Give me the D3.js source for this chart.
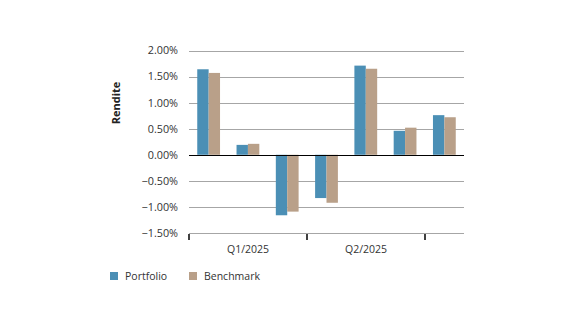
<!DOCTYPE html>
<html><head><meta charset="utf-8">
<script src="https://cdn.jsdelivr.net/npm/d3@7"></script>
<style>body{margin:0;background:#fff}svg{display:block;font-family:"Open Sans",sans-serif}</style>
</head><body><svg id="c" width="576" height="324"></svg>
<script>
const groups = ["1","2","3","4","5","6","7"];
const seriesNames = ["Portfolio","Benchmark"];
const portfolio = [1.64, 0.19, -1.16, -0.83, 1.71, 0.46, 0.76];
const benchmark = [1.57, 0.21, -1.09, -0.92, 1.65, 0.52, 0.72];
const yTicks = [2.0, 1.5, 1.0, 0.5, 0.0, -0.5, -1.0, -1.5];
const quarterLabels = ["Q1/2025", "Q2/2025", ""];
const colors = ["#4b8fb5", "#b9a089"];

(function () {
const svg = d3.select("#c");
const pLeft = 189, pRight = 464, pTop = 50.5, pBottom = 233;
const y = d3.scaleLinear().domain([-1.5, 2.0]).range([pBottom, pTop]);
const x = d3.scaleBand().domain(groups).range([pLeft, pRight]).paddingInner(0.42).paddingOuter(0.21);
const xs = d3.scaleBand().domain(seriesNames).range([0, x.bandwidth()]);
const q = d3.scaleBand().domain(d3.range(3)).range([pLeft, pLeft + 118 * 3]);

svg.append("g").selectAll("line").data(yTicks.filter(d => d !== 0)).join("line")
  .attr("x1", pLeft).attr("x2", pRight)
  .attr("y1", d => Math.round(y(d)) + 0.5).attr("y2", d => Math.round(y(d)) + 0.5)
  .attr("stroke", "#a6a6a6").attr("stroke-width", 1.2);

svg.append("g").selectAll("text").data(yTicks).join("text")
  .attr("x", 178).attr("y", d => y(d)).attr("dy", "0.36em")
  .attr("text-anchor", "end").attr("font-size", 10.8).attr("fill", "#333")
  .text(d => d3.format(".2f")(d) + "%");

const data = groups.map((g, i) => ({g, vals: [portfolio[i], benchmark[i]]}));
svg.append("g").selectAll("g").data(data).join("g")
  .attr("transform", d => `translate(${x(d.g)},0)`)
  .selectAll("rect").data(d => d.vals.map((v, j) => ({v, s: seriesNames[j], j}))).join("rect")
  .attr("x", d => xs(d.s)).attr("width", xs.bandwidth())
  .attr("y", d => y(Math.max(0, d.v))).attr("height", d => Math.abs(y(d.v) - y(0)))
  .attr("fill", d => colors[d.j]);

svg.append("line").attr("x1", pLeft).attr("x2", pRight)
  .attr("y1", Math.round(y(0)) + 0.5).attr("y2", Math.round(y(0)) + 0.5)
  .attr("stroke", "#000").attr("stroke-width", 1.2);

const tickXs = [0, 1, 2].map(i => q(i));
svg.append("g").selectAll("line").data(tickXs).join("line")
  .attr("x1", d => d).attr("x2", d => d).attr("y1", pBottom + 1).attr("y2", pBottom + 7)
  .attr("stroke", "#000").attr("stroke-width", 1.5);
svg.append("g").selectAll("text").data(quarterLabels.slice(0, 2)).join("text")
  .attr("x", (d, i) => q(i) + q.bandwidth() / 2).attr("y", 253)
  .attr("text-anchor", "middle").attr("font-size", 10.5).attr("fill", "#333").text(d => d);

svg.append("text").attr("transform", "translate(120,103) rotate(-90)")
  .attr("text-anchor", "middle").attr("font-size", 11).attr("font-weight", "bold")
  .attr("fill", "#222").text("Rendite");

const legX = [110, 189];
const leg = svg.append("g").selectAll("g").data(seriesNames).join("g")
  .attr("transform", (d, i) => `translate(${legX[i]},272)`);
leg.append("rect").attr("width", 8).attr("height", 8).attr("fill", (d, i) => colors[i]);
leg.append("text").attr("x", 15).attr("y", 4).attr("dy", "0.36em")
  .attr("font-size", 10.5).attr("fill", "#333").text(d => d);
})();
</script></body></html>
